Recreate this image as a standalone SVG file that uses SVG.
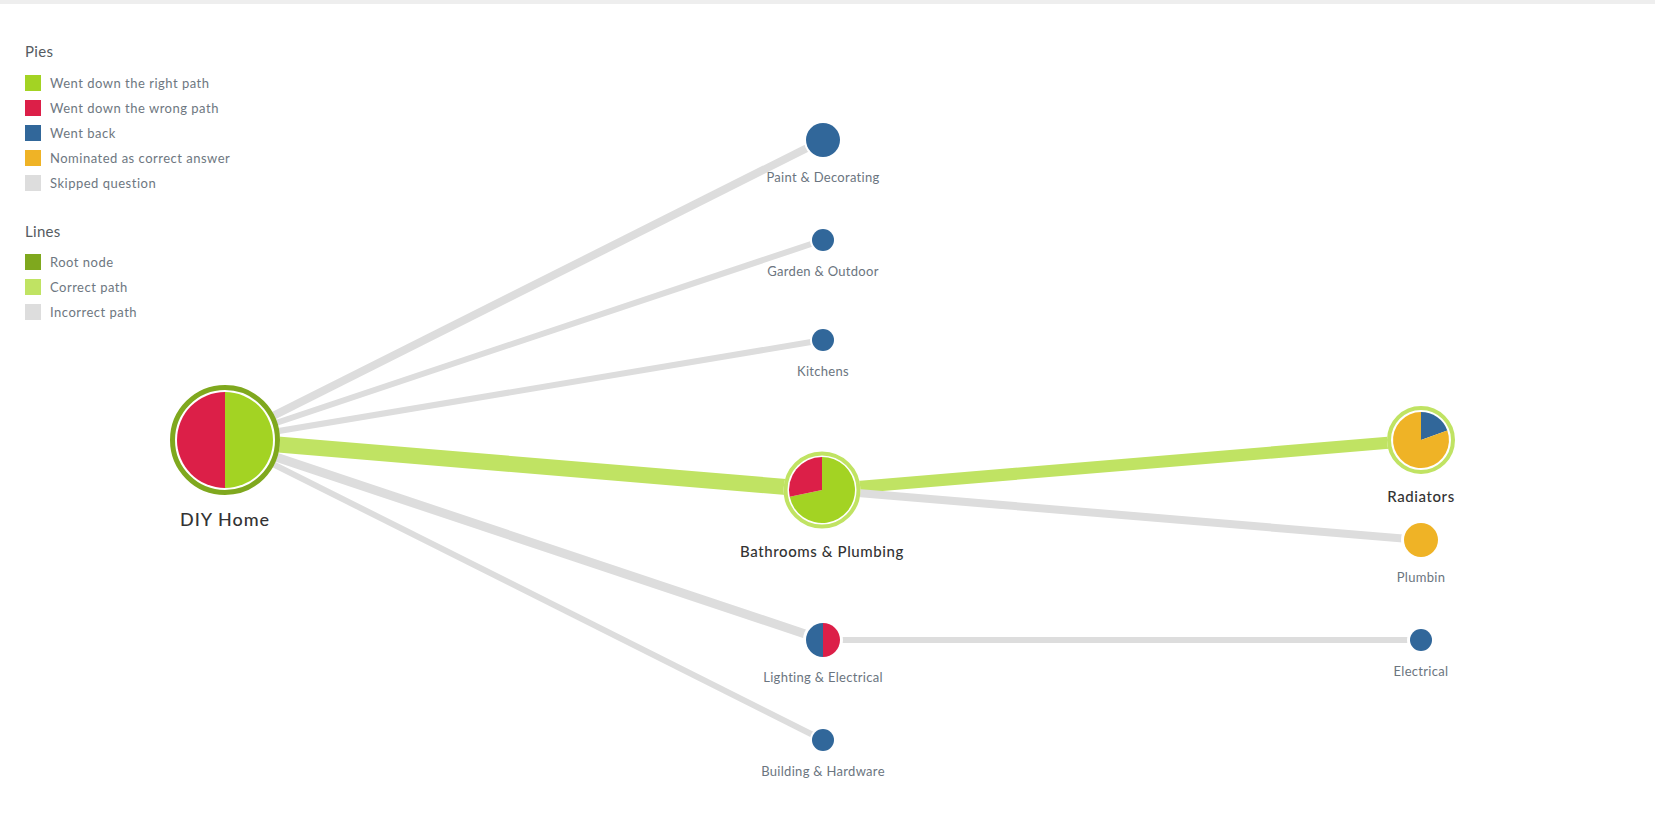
<svg xmlns="http://www.w3.org/2000/svg" width="1655" height="840" viewBox="0 0 1655 840">
<style>
text{font-family:Lato,"Open Sans","Liberation Sans",sans-serif}
.hd{font-size:15px;fill:#555b61;letter-spacing:0.3px}
.lg{font-size:13px;fill:#6e7781;letter-spacing:0.5px}
.sm{font-size:13px;fill:#6b7580;text-anchor:middle;letter-spacing:0.3px}
.big{font-size:15px;fill:#333;text-anchor:middle;font-weight:500;letter-spacing:0.6px}
.bad{stroke:#dddddd;fill:none}
.good{stroke:#c0e363;fill:none}
.bg{fill:#fff}
.g{fill:#a3d323}.r{fill:#dc1f48}.b{fill:#31679a}.o{fill:#efb326}
</style>
<rect x="0" y="0" width="1655" height="4" fill="#eeeeee"/>
<g id="legend">
<text class="hd" x="25" y="57">Pies</text>
<rect x="25" y="75" width="16" height="16" class="g"/><text class="lg" x="50" y="88">Went down the right path</text>
<rect x="25" y="100" width="16" height="16" class="r"/><text class="lg" x="50" y="113">Went down the wrong path</text>
<rect x="25" y="125" width="16" height="16" class="b"/><text class="lg" x="50" y="138">Went back</text>
<rect x="25" y="150" width="16" height="16" class="o"/><text class="lg" x="50" y="163">Nominated as correct answer</text>
<rect x="25" y="175" width="16" height="16" fill="#dddddd"/><text class="lg" x="50" y="188">Skipped question</text>
<text class="hd" x="25" y="237">Lines</text>
<rect x="25" y="254" width="16" height="16" fill="#7fa81e"/><text class="lg" x="50" y="267">Root node</text>
<rect x="25" y="279" width="16" height="16" fill="#c0e363"/><text class="lg" x="50" y="292">Correct path</text>
<rect x="25" y="304" width="16" height="16" fill="#dddddd"/><text class="lg" x="50" y="317">Incorrect path</text>
</g>
<g id="connectors">
<line class="bad" x1="225" y1="440" x2="823" y2="140" stroke-width="8"/>
<line class="bad" x1="225" y1="440" x2="823" y2="240" stroke-width="6"/>
<line class="bad" x1="225" y1="440" x2="823" y2="340" stroke-width="6"/>
<line class="good" x1="225" y1="440" x2="822" y2="490" stroke-width="16"/>
<line class="bad" x1="225" y1="440" x2="823" y2="640" stroke-width="9"/>
<line class="bad" x1="225" y1="440" x2="823" y2="740" stroke-width="6"/>
<line class="good" x1="822" y1="490" x2="1421" y2="440" stroke-width="12"/>
<line class="bad" x1="822" y1="490" x2="1421" y2="540" stroke-width="8"/>
<line class="bad" x1="823" y1="640" x2="1421" y2="640" stroke-width="6"/>
</g>
<g id="node-root">
<circle class="bg" cx="225" cy="440" r="55"/>
<circle cx="225" cy="440" r="52.5" fill="none" stroke="#7fa81e" stroke-width="5"/>
<path class="g" d="M225,440 L225,392 A48,48 0 0 1 225,488 Z"/>
<path class="r" d="M225,440 L225,488 A48,48 0 0 1 225,392 Z"/>
<text x="225" y="526" text-anchor="middle" font-size="18" fill="#333" font-weight="500" letter-spacing="1">DIY Home</text>
</g>
<g id="node-paint">
<circle class="bg" cx="823" cy="140" r="19"/>
<circle class="b" cx="823" cy="140" r="17"/>
<text class="sm" x="823" y="182">Paint &amp; Decorating</text>
</g>
<g id="node-garden">
<circle class="bg" cx="823" cy="240" r="13"/>
<circle class="b" cx="823" cy="240" r="11"/>
<text class="sm" x="823" y="276">Garden &amp; Outdoor</text>
</g>
<g id="node-kitchens">
<circle class="bg" cx="823" cy="340" r="13"/>
<circle class="b" cx="823" cy="340" r="11"/>
<text class="sm" x="823" y="376">Kitchens</text>
</g>
<g id="node-bathrooms">
<circle class="bg" cx="822" cy="490" r="38.5"/>
<circle cx="822" cy="490" r="36.5" fill="none" stroke="#c0e363" stroke-width="4"/>
<path class="g" d="M822,490 L822,457 A33,33 0 1 1 789.72,496.86 Z"/>
<path class="r" d="M822,490 L789.72,496.86 A33,33 0 0 1 822,457 Z"/>
<text class="big" x="822" y="557">Bathrooms &amp; Plumbing</text>
</g>
<g id="node-lighting">
<circle class="bg" cx="823" cy="640" r="20"/>
<path class="b" d="M823,623 A17,17 0 0 0 823,657 Z"/>
<path class="r" d="M823,623 A17,17 0 0 1 823,657 Z"/>
<text class="sm" x="823" y="682">Lighting &amp; Electrical</text>
</g>
<g id="node-building">
<circle class="bg" cx="823" cy="740" r="13"/>
<circle class="b" cx="823" cy="740" r="11"/>
<text class="sm" x="823" y="776">Building &amp; Hardware</text>
</g>
<g id="node-radiators">
<circle class="bg" cx="1421" cy="440" r="34"/>
<circle cx="1421" cy="440" r="32" fill="none" stroke="#c0e363" stroke-width="4"/>
<path class="b" d="M1421,440 L1421,412 A28,28 0 0 1 1447.31,430.42 Z"/>
<path class="o" d="M1421,440 L1447.31,430.42 A28,28 0 1 1 1421,412 Z"/>
<text class="big" x="1421" y="502">Radiators</text>
</g>
<g id="node-plumbin">
<circle class="bg" cx="1421" cy="540" r="20"/>
<circle class="o" cx="1421" cy="540" r="17"/>
<text class="sm" x="1421" y="582">Plumbin</text>
</g>
<g id="node-electrical">
<circle class="bg" cx="1421" cy="640" r="14"/>
<circle class="b" cx="1421" cy="640" r="11"/>
<text class="sm" x="1421" y="676">Electrical</text>
</g>
</svg>
